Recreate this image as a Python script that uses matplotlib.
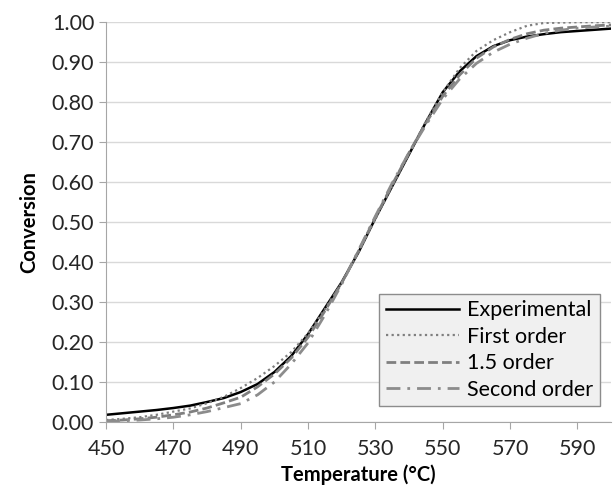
import matplotlib.pyplot as plt
import numpy as np

plt.rcParams['font.family'] = ['Lato', 'DejaVu Sans']

temp = [450, 455, 460, 465, 470, 475, 480, 485, 490, 495, 500, 505, 510, 515, 520, 525,
        530, 535, 540, 545, 550, 555, 560, 565, 570, 575, 580, 585, 590, 595, 600]

experimental = [0.018, 0.022, 0.026, 0.030, 0.035, 0.041, 0.050, 0.060, 0.075, 0.095, 0.125,
                0.165, 0.220, 0.285, 0.350, 0.425, 0.510, 0.590, 0.670, 0.750, 0.825, 0.877,
                0.915, 0.940, 0.955, 0.964, 0.970, 0.975, 0.978, 0.981, 0.984]
first_order = [0.005, 0.008, 0.012, 0.018, 0.026, 0.034, 0.047, 0.063, 0.085, 0.110, 0.140,
               0.175, 0.222, 0.282, 0.348, 0.425, 0.508, 0.590, 0.672, 0.752, 0.825, 0.885,
               0.928, 0.955, 0.975, 0.991, 0.998, 0.999, 1.000, 1.000, 1.000]
order_15 = [0.003, 0.005, 0.008, 0.012, 0.018, 0.025, 0.035, 0.048, 0.062, 0.088, 0.120,
            0.160, 0.212, 0.278, 0.348, 0.428, 0.512, 0.594, 0.674, 0.748, 0.815, 0.868,
            0.910, 0.938, 0.957, 0.971, 0.980, 0.985, 0.988, 0.991, 0.993]
second_order = [0.002, 0.003, 0.005, 0.008, 0.012, 0.018, 0.026, 0.036, 0.046, 0.068, 0.100,
                0.145, 0.198, 0.268, 0.345, 0.430, 0.515, 0.598, 0.674, 0.743, 0.808, 0.858,
                0.897, 0.925, 0.945, 0.960, 0.972, 0.980, 0.985, 0.988, 0.990]

fig = plt.figure(figsize=(6.13, 4.93), dpi=100)
ax = fig.add_axes([0.173, 0.144, 0.824, 0.811])

ax.plot(temp, experimental, color='black', lw=1.8, label='Experimental')
ax.plot(temp, first_order, color='#7f7f7f', lw=1.6, ls=(0, (1, 1.5)), label='First order')
ax.plot(temp, order_15, color='#7f7f7f', lw=2.0, ls=(0, (3.5, 1.5)), label='1.5 order')
ax.plot(temp, second_order, color='#8c8c8c', lw=2.0, ls=(0, (5, 2.5, 1, 2.5)), label='Second order')

ax.set_xlim(450, 600)
ax.set_ylim(0, 1)
ax.set_xticks(np.arange(450, 600, 20))
ax.set_yticks(np.arange(0, 1.01, 0.1))
ax.set_yticklabels(['%.2f' % v for v in np.arange(0, 1.01, 0.1)])
ax.grid(axis='y', color='#d9d9d9', lw=1)
ax.set_axisbelow(True)

for s in ['top', 'right']:
    ax.spines[s].set_visible(False)
for s in ['left', 'bottom']:
    ax.spines[s].set_color('#a6a6a6')
ax.tick_params(axis='both', colors='#a6a6a6', labelcolor='#262626', labelsize=15.5, length=5)
ax.tick_params(axis='x', pad=7)

ax.set_xlabel('Temperature (°C)', fontsize=14.5, fontweight='bold', labelpad=4)
ax.set_ylabel('Conversion', fontsize=14.5, fontweight='bold', labelpad=9)

leg = ax.legend(loc='lower right', bbox_to_anchor=(0.978, 0.04), fontsize=15.5, fancybox=False,
                framealpha=1, handlelength=3.4, borderpad=0.3, labelspacing=0.3,
                handletextpad=0.4, borderaxespad=0)
leg.get_frame().set_facecolor('#f0f0f0')
leg.get_frame().set_edgecolor('#8c8c8c')

fig.savefig('out.png', dpi=100)
